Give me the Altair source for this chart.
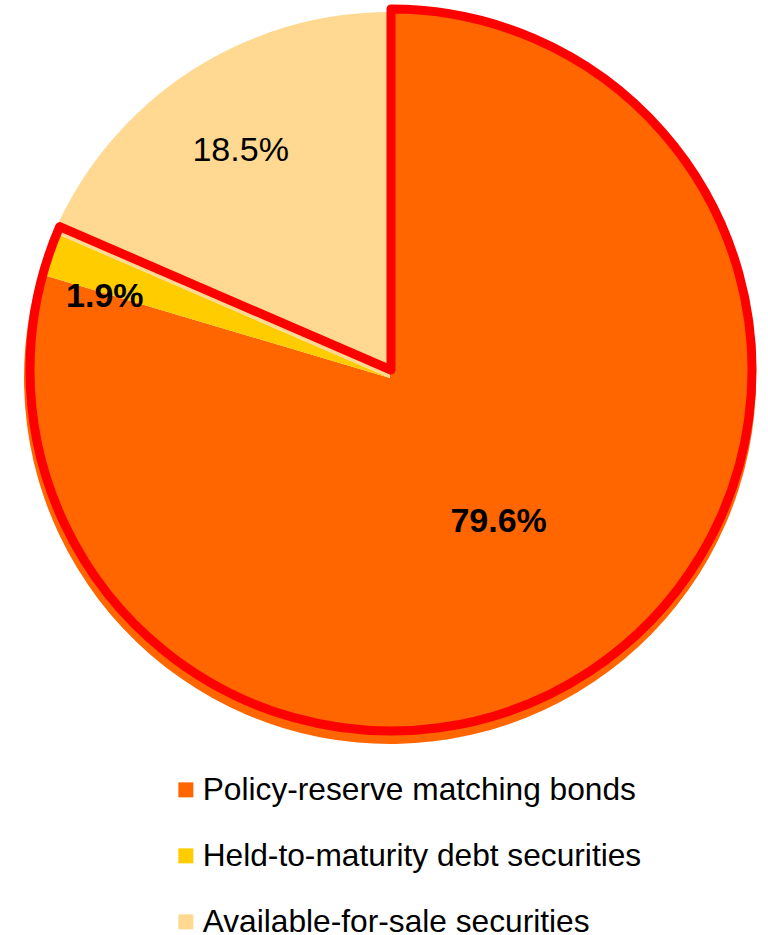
import altair as alt
import pandas as pd
import math

categories = ["Policy-reserve matching bonds", "Held-to-maturity debt securities", "Available-for-sale securities"]
shares = [79.6, 1.9, 18.5]
labels = ["79.6%", "1.9%", "18.5%"]
colors = ["#FF6600", "#FFCC00", "#FFD891"]

df = pd.DataFrame({"category": categories, "share": shares, "label": labels, "order": [0, 1, 2]})
outline = pd.DataFrame({"part": ["in", "out"], "share": [shares[0] + shares[1], shares[2]], "order": [0, 1]})

FONT = "Liberation Sans, Arial, Helvetica, sans-serif"
CX, CY, R = 390, 378, 366

color_scale = alt.Scale(domain=categories, range=colors)

pie = alt.Chart(df).mark_arc(radius=R, stroke=None).encode(
    theta=alt.Theta("share:Q", stack=True),
    order=alt.Order("order:Q"),
    x=alt.value(CX), y=alt.value(CY),
    color=alt.Color("category:N", scale=color_scale, sort=categories,
                    legend=alt.Legend(title=None, orient="none", legendX=170, legendY=774,
                                      symbolType="square", symbolSize=225, symbolStrokeWidth=0,
                                      labelFontSize=31.7, labelFont=FONT, labelColor="#000000",
                                      labelOffset=1, rowPadding=33, labelLimit=600, padding=0)),
)

ring = alt.Chart(outline).mark_arc(radius=361, fillOpacity=0, strokeWidth=9, strokeJoin="round").encode(
    theta=alt.Theta("share:Q", stack=True),
    order=alt.Order("order:Q"),
    x=alt.value(391), y=alt.value(370),
    stroke=alt.condition(alt.datum.part == "in", alt.value("#FF0000"), alt.value("transparent")),
)

label_base = alt.Chart(df).transform_window(
    cum="sum(share)", sort=[alt.SortField("order")]
).transform_joinaggregate(
    total="sum(share)"
).transform_calculate(
    mid="datum.cum - datum.share / 2"
)

def lab(cat, r, bold, dx=0, dy=0):
    return label_base.transform_filter(alt.datum.category == cat).mark_text(
        radius=r, font=FONT, fontSize=34, fontWeight="bold" if bold else "normal",
        color="#000000", dx=dx, dy=dy, align="center", baseline="middle"
    ).encode(
        theta=alt.Theta("mid:Q", stack=None, scale=alt.Scale(domain=[0, 100], range=[0, 2 * math.pi])),
        x=alt.value(CX), y=alt.value(CY), text="label:N",
    )

t1 = lab(categories[0], 180, True, 1, 0)
t2 = lab(categories[1], 296, True, -7, 20)
t3 = lab(categories[2], 272, False, 0, 0)

chart = alt.layer(pie, ring, t1, t2, t3).resolve_scale(theta="independent").properties(
    width=768, height=935, autosize=alt.AutoSizeParams(type="none"), padding=0
).configure_view(stroke=None)

chart.save("out.html", embed_options={"renderer": "svg", "actions": False})
